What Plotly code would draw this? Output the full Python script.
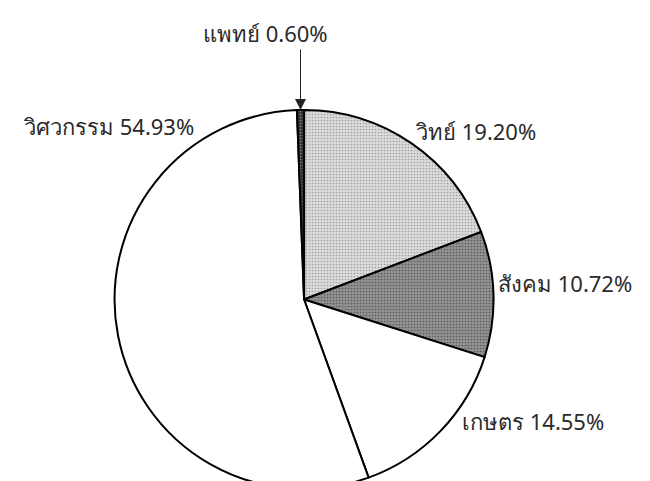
import math
import plotly.graph_objects as go

# Data (clockwise from 12 o'clock)
labels = ["วิทย์", "สังคม", "เกษตร", "วิศวกรรม", "แพทย์"]
values = [19.20, 10.72, 14.55, 54.93, 0.60]
colors = ["#dcdcdc", "#929292", "#ffffff", "#ffffff", "#303030"]
dots = ["#a0a0a0", "#5a5a5a", "#ffffff", "#ffffff", "#8a8a8a"]
shapes = [".", ".", "", "", "."]

# label placement (paper coords, left-anchored)
label_pos = {
    "วิทย์": (0.623, 0.744),
    "สังคม": (0.751, 0.428),
    "เกษตร": (0.695, 0.141),
    "วิศวกรรม": (0.020, 0.755),
    "แพทย์": (0.297, 0.948),
}

W, H = 650, 481
dom_x = [0.163, 0.748]
dom_y = [0.0, 0.788]

fig = go.Figure(go.Pie(
    labels=labels,
    values=values,
    sort=False,
    direction="clockwise",
    rotation=0,
    textinfo="none",
    hoverinfo="label+percent",
    marker=dict(
        colors=colors,
        line=dict(color="black", width=2),
        pattern=dict(shape=shapes, fgcolor=dots, bgcolor=colors,
                     size=3, solidity=0.25),
    ),
    domain=dict(x=dom_x, y=dom_y),
    showlegend=False,
))

font = dict(family="'Noto Sans', 'DejaVu Sans', sans-serif", size=22, color="#2a2a2a")
for lab, val in zip(labels, values):
    px, py = label_pos[lab]
    fig.add_annotation(
        x=px, y=py, xref="paper", yref="paper",
        text=f"{lab} {val:.2f}%", showarrow=False,
        xanchor="left", yanchor="middle", font=font,
    )

# arrow to the small slice (แพทย์) computed from the pie geometry
cx = (dom_x[0] + dom_x[1]) / 2 * W
cy_px = H - (dom_y[0] + dom_y[1]) / 2 * H
r = min((dom_x[1] - dom_x[0]) * W, (dom_y[1] - dom_y[0]) * H) / 2
idx = labels.index("แพทย์")
start = sum(values[:idx]) / sum(values) * 360
mid = math.radians(start + values[idx] / sum(values) * 180)
tip_x = cx + r * math.sin(mid)
tip_y = cy_px - r * math.cos(mid)
fig.add_annotation(
    x=tip_x / W, y=(H - tip_y) / H, xref="paper", yref="paper",
    text="", showarrow=True, arrowhead=2, arrowsize=2.2, arrowwidth=1,
    arrowcolor="#222222", ax=0, ay=-62,
)

fig.update_layout(
    width=W, height=H,
    margin=dict(l=0, r=0, t=0, b=0),
    paper_bgcolor="white", plot_bgcolor="white",
)
fig.write_html("out.html")
